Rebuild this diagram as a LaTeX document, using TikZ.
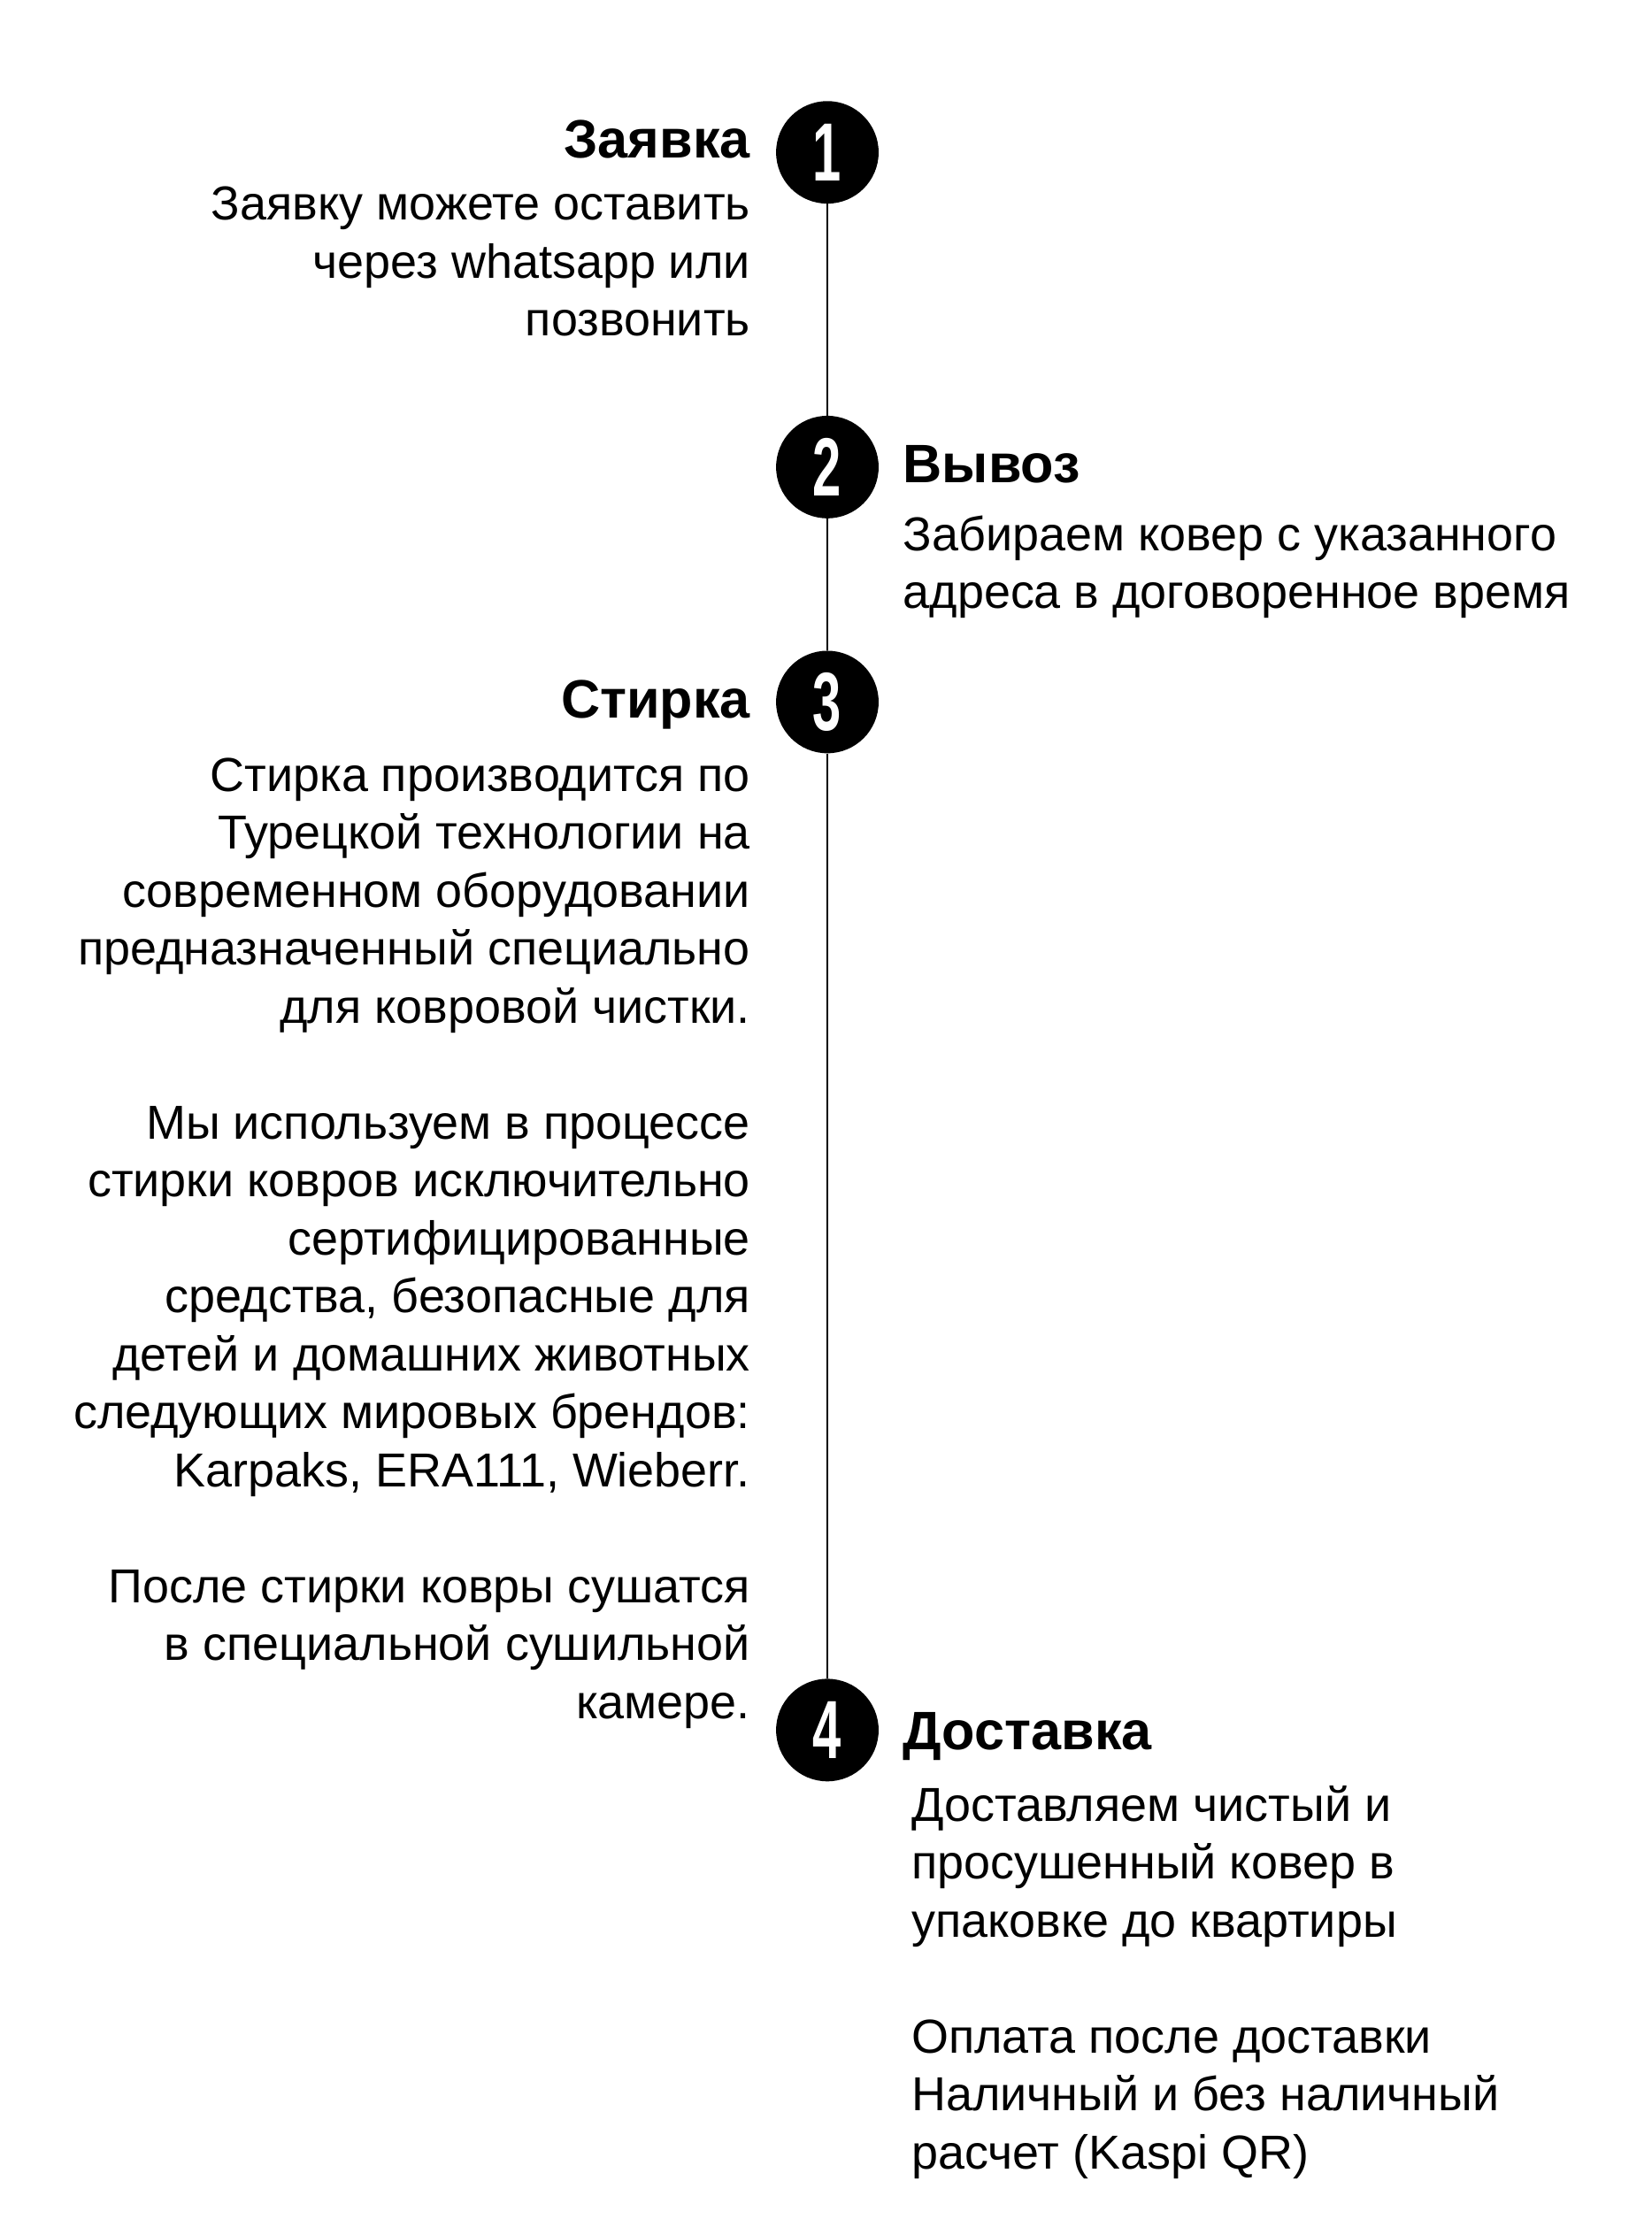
\documentclass[tikz,border=0pt]{standalone}
\usepackage{fontspec}
\setmainfont{Liberation Sans}
\begin{document}
\begin{tikzpicture}[x=1pt,y=-1pt,
  dot/.style={circle,fill=black,minimum size=72pt,inner sep=0pt,text=white,font=\fontsize{58}{58}\selectfont\bfseries},
  ttl/.style={inner sep=0pt,font=\fontsize{38}{40}\selectfont\bfseries},
  body/.style={inner sep=0pt,font=\fontsize{33.5}{40.7}\selectfont}]
\useasboundingbox (0,0) rectangle (1160,1564);
\node[dot] (c1) at (581,107) {\scalebox{0.62}[1]{1}};
\node[dot] (c2) at (581,328) {\scalebox{0.62}[1]{2}};
\node[dot] (c3) at (581,493) {\scalebox{0.62}[1]{3}};
\node[dot] (c4) at (581,1215) {\scalebox{0.62}[1]{4}};
\draw[line width=1.3pt] (c1) -- (c2);
\draw[line width=1.3pt] (c2) -- (c3);
\draw[line width=1.3pt] (c3) -- (c4);
\node[ttl,anchor=base east] (t1) at (527,111) {Заявка};
\node[body,anchor=north east,align=right] (b1) at (527,131) {Заявку можете оставить\\через whatsapp или\\позвонить};
\node[ttl,anchor=base west] (t2) at (634,339) {Вывоз};
\node[body,anchor=north west,align=left] (b2) at (634,362) {Забираем ковер с указанного\\адреса в договоренное время};
\node[ttl,anchor=base east] (t3) at (527,504) {Стирка};
\node[body,anchor=north east,align=right] (b3) at (527,532) {Стирка производится по\\Турецкой технологии на\\современном оборудовании\\предназначенный специально\\для ковровой чистки.\\[40.7pt]Мы используем в процессе\\стирки ковров исключительно\\сертифицированные\\средства, безопасные для\\детей и домашних животных\\следующих мировых брендов:\\Karpaks, ERA111, Wieberr.\\[40.7pt]После стирки ковры сушатся\\в специальной сушильной\\камере.};
\node[ttl,anchor=base west] (t4) at (634,1229) {Доставка};
\node[body,anchor=north west,align=left] (b4) at (640,1254) {Доставляем чистый и\\просушенный ковер в\\упаковке до квартиры\\[40.7pt]Оплата после доставки\\Наличный и без наличный\\расчет (Kaspi QR)};
\end{tikzpicture}
\end{document}
